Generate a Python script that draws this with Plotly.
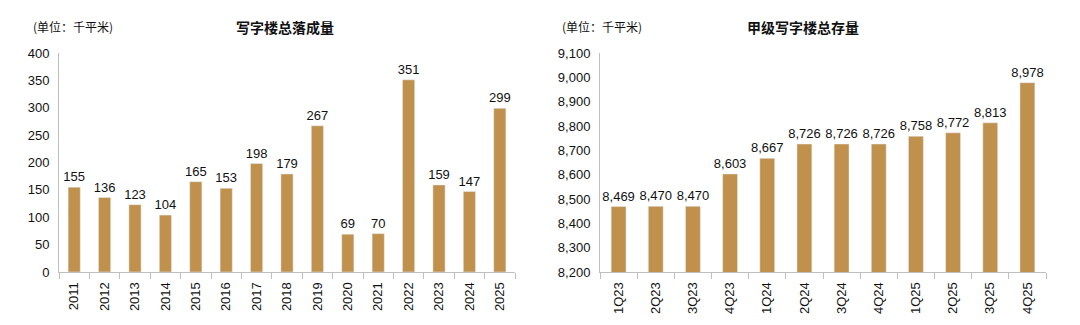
import plotly.graph_objects as go

years = ["2011","2012","2013","2014","2015","2016","2017","2018","2019","2020","2021","2022","2023","2024","2025"]
completions = [155,136,123,104,165,153,198,179,267,69,70,351,159,147,299]

quarters = ["1Q23","2Q23","3Q23","4Q23","1Q24","2Q24","3Q24","4Q24","1Q25","2Q25","3Q25","4Q25"]
stock = [8469,8470,8470,8603,8667,8726,8726,8726,8758,8772,8813,8978]

BAR = "#C0904D"
FONT = "Liberation Sans, Arial, Noto Sans CJK SC, sans-serif"
CJK = "Noto Sans CJK SC, sans-serif"

fig = go.Figure()
fig.add_trace(go.Bar(x=years, y=completions, marker_color=BAR, text=[str(v) for v in completions],
                     textposition="outside", constraintext="none", textfont=dict(size=13, color="#111"),
                     cliponaxis=False, xaxis="x", yaxis="y", showlegend=False))
fig.add_trace(go.Bar(x=quarters, y=stock, marker_color=BAR, text=[f"{v:,}" for v in stock],
                     textposition="outside", constraintext="none", textfont=dict(size=13, color="#111"),
                     cliponaxis=False, xaxis="x2", yaxis="y2", showlegend=False))

ydom = [1-272/325, 1-53/325]
axis_common = dict(showgrid=False, zeroline=False, showline=True, linecolor="#BFBFBF", linewidth=1,
                   automargin=False, tickfont=dict(size=13, color="#111", family=FONT))
fig.update_layout(
    width=1080, height=325, margin=dict(l=0, r=0, t=0, b=0, autoexpand=False),
    paper_bgcolor="white", plot_bgcolor="white", bargap=0.6,
    font=dict(family=FONT, color="#111"),
    xaxis=dict(domain=[59/1080, 515/1080], anchor="y", tickangle=-90, ticks="outside", ticklen=6,
               tickcolor="#BFBFBF", tickson="boundaries", ticklabelstandoff=4, **axis_common),
    yaxis=dict(domain=ydom, anchor="x", range=[0, 400], dtick=50, ticks="", ticklabelstandoff=6, **axis_common),
    xaxis2=dict(domain=[600/1080, 1046/1080], anchor="y2", tickangle=-90, ticks="outside", ticklen=6,
                tickcolor="#BFBFBF", tickson="boundaries", ticklabelstandoff=4, **axis_common),
    yaxis2=dict(domain=ydom, anchor="x2", range=[8200, 9100], dtick=100, tickformat=",", ticks="",
                ticklabelstandoff=6, **axis_common),
)
fig.update_traces(width=0.4)

fig.add_annotation(text="(单位：千平米)", x=31/1080, y=1-27/325, xref="paper", yref="paper",
                   xanchor="left", yanchor="middle", showarrow=False, font=dict(size=12, family=CJK, color="#111"))
fig.add_annotation(text="<b>写字楼总落成量</b>", x=285/1080, y=1-27/325, xref="paper", yref="paper",
                   xanchor="center", yanchor="middle", showarrow=False, font=dict(size=14, family=CJK, color="#111"))
fig.add_annotation(text="(单位：千平米)", x=560/1080, y=1-27/325, xref="paper", yref="paper",
                   xanchor="left", yanchor="middle", showarrow=False, font=dict(size=12, family=CJK, color="#111"))
fig.add_annotation(text="<b>甲级写字楼总存量</b>", x=803/1080, y=1-27/325, xref="paper", yref="paper",
                   xanchor="center", yanchor="middle", showarrow=False, font=dict(size=14, family=CJK, color="#111"))

fig.write_html("out.html")
